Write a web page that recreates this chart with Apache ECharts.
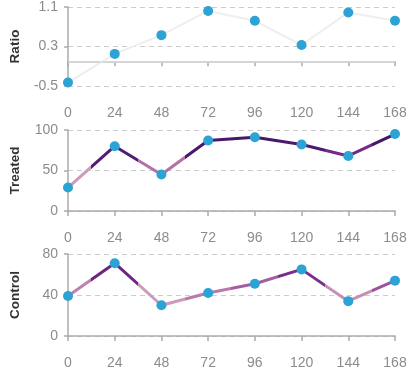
<!DOCTYPE html>
<html>
<head>
<meta charset="utf-8">
<script src="https://cdn.jsdelivr.net/npm/echarts@6/dist/echarts.min.js"></script>
<style>
html,body{margin:0;padding:0;background:#fff;}
#chart{width:412px;height:373px;}
</style>
</head>
<body>
<div id="chart"></div>
<script>
const hours = [0, 24, 48, 72, 96, 120, 144, 168];
const ratioValues = [-0.43, 0.15, 0.53, 1.02, 0.82, 0.33, 0.99, 0.82];
const treatedValues = [29, 80, 45, 87, 91, 82, 68, 95];
const controlValues = [39, 71, 30, 42, 51, 65, 34, 54];
const panelNames = ['Ratio', 'Treated', 'Control'];

// colour stops (style only)
const colorStops = [
  [30, [204, 154, 187]],
  [45, [180, 113, 165]],
  [55, [154, 79, 157]],
  [65, [124, 46, 141]],
  [72, [106, 35, 130]],
  [82, [78, 26, 112]],
  [95, [66, 21, 106]]
];
function colorFor(v) {
  if (v <= colorStops[0][0]) return 'rgb(' + colorStops[0][1].join(',') + ')';
  for (let i = 1; i < colorStops.length; i++) {
    if (v <= colorStops[i][0]) {
      const a = colorStops[i - 1], b = colorStops[i];
      const t = (v - a[0]) / (b[0] - a[0]);
      const c = a[1].map((x, k) => Math.round(x + (b[1][k] - x) * t));
      return 'rgb(' + c.join(',') + ')';
    }
  }
  return 'rgb(' + colorStops[colorStops.length - 1][1].join(',') + ')';
}
function piecesFor(vals) {
  return hours.map((h, i) => {
    const p = { color: colorFor(vals[i]) };
    if (i > 0) p.gte = (hours[i - 1] + h) / 2;
    if (i < hours.length - 1) p.lt = (hours[i + 1] + h) / 2;
    return p;
  });
}

const FONT = '"Liberation Sans", Arial, sans-serif';
const LABEL = '#8c8c8c';
const BLUE = '#2ba3d4';

const grids = [
  { left: 68, right: 17, top: 5, height: 81 },
  { left: 68, right: 17, top: 130, height: 81 },
  { left: 68, right: 17, top: 254, height: 82 }
];
const xAxes = grids.map((g, i) => ({
  type: 'value', gridIndex: i, min: 0, max: 168, interval: 24,
  axisLine: { show: true, lineStyle: { color: '#aaaaaa', width: 1.5 } },
  axisTick: { show: true, length: 5, lineStyle: { color: '#aaaaaa', width: 1.5 } },
  axisLabel: { color: LABEL, fontSize: 14, fontFamily: FONT, margin: 20 },
  splitLine: { show: false }
}));
const yRanges = [
  { min: -0.5, max: 1.1, interval: 0.8 },
  { min: 0, max: 100, interval: 50 },
  { min: 0, max: 80, interval: 40 }
];
const yAxes = yRanges.map((r, i) => ({
  type: 'value', gridIndex: i, min: r.min, max: r.max, interval: r.interval,
  name: panelNames[i], nameLocation: 'middle', nameGap: 46, nameRotate: 90,
  nameTextStyle: { color: '#333333', fontSize: 13.5, fontWeight: 'bold', fontFamily: FONT },
  axisLine: { show: true, lineStyle: { color: '#aaaaaa', width: 1.5 } },
  axisTick: { show: true, length: 4, lineStyle: { color: '#aaaaaa', width: 1.5 } },
  axisLabel: {
    color: LABEL, fontSize: 14, fontFamily: FONT, margin: 10,
    formatter: v => String(Math.round(v * 10) / 10)
  },
  splitLine: { show: true, lineStyle: { color: '#cccccc', type: [5, 4], width: 1 } }
}));

const toPairs = vals => hours.map((h, i) => [h, vals[i]]);

const option = {
  animation: false,
  backgroundColor: '#ffffff',
  grid: grids,
  xAxis: xAxes,
  yAxis: yAxes,
  visualMap: [
    { type: 'piecewise', show: false, dimension: 0, seriesIndex: 1, pieces: piecesFor(treatedValues) },
    { type: 'piecewise', show: false, dimension: 0, seriesIndex: 2, pieces: piecesFor(controlValues) }
  ],
  series: [
    {
      type: 'line', xAxisIndex: 0, yAxisIndex: 0, data: toPairs(ratioValues),
      showSymbol: false, lineStyle: { color: '#eeeeee', width: 2 }, z: 2,
      markLine: {
        silent: true, symbol: 'none', label: { show: false },
        lineStyle: { color: '#dddddd', type: 'solid', width: 1.5 },
        data: [{ yAxis: 0 }]
      }
    },
    {
      type: 'line', xAxisIndex: 1, yAxisIndex: 1, data: toPairs(treatedValues),
      showSymbol: false, lineStyle: { width: 3 }, z: 2
    },
    {
      type: 'line', xAxisIndex: 2, yAxisIndex: 2, data: toPairs(controlValues),
      showSymbol: false, lineStyle: { width: 3 }, z: 2
    },
    { type: 'scatter', xAxisIndex: 0, yAxisIndex: 0, data: toPairs(ratioValues), symbolSize: 10, itemStyle: { color: BLUE, opacity: 1 }, z: 5 },
    { type: 'scatter', xAxisIndex: 1, yAxisIndex: 1, data: toPairs(treatedValues), symbolSize: 10, itemStyle: { color: BLUE, opacity: 1 }, z: 5 },
    { type: 'scatter', xAxisIndex: 2, yAxisIndex: 2, data: toPairs(controlValues), symbolSize: 10, itemStyle: { color: BLUE, opacity: 1 }, z: 5 }
  ]
};

const chart = echarts.init(document.getElementById('chart'), null, { renderer: 'canvas' });
chart.setOption(option);
</script>
</body>
</html>
